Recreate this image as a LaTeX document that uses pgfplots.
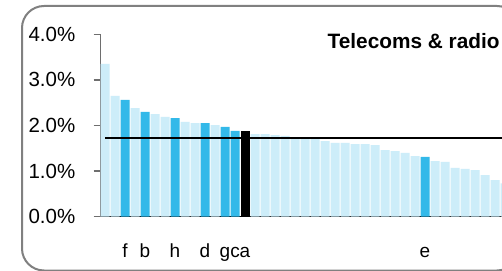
\documentclass[border=0pt]{standalone}
\usepackage{pgfplots}
\pgfplotsset{compat=1.18}
\usepackage{fontspec}
\setmainfont{Liberation Sans}
\definecolor{lightb}{RGB}{205,237,249}
\definecolor{darkb}{RGB}{51,185,233}
\definecolor{framegray}{RGB}{128,128,128}
\definecolor{axgray}{RGB}{110,110,110}
\begin{document}
\begin{tikzpicture}[x=1pt,y=1pt]
\useasboundingbox (0,0) rectangle (502,270);
\clip (0,0) rectangle (502,270);
\fill[white] (0,0) rectangle (502,270);
\draw[framegray, line width=2pt, rounded corners=22pt] (22,-0.5) rectangle (519,264);
\begin{axis}[
  at={(100.5pt,53.3pt)}, anchor=origin,
  scale only axis, width=401.5pt, height=182.4pt,
  xmin=0.55, xmax=40.7, ymin=0, ymax=4,
  axis x line=bottom, axis y line=left,
  axis line style={-},
  x axis line style={black, line width=1.3pt},
  y axis line style={axgray, line width=1.3pt},
  xtick={3,5,8,11,13,14,15,33},
  xticklabels={f,b,h,d,g,c,a,e},
  xtick style={draw=none},
  ytick={0,1,2,3,4},
  yticklabels={0.0\%,1.0\%,2.0\%,3.0\%,4.0\%},
  ytick style={axgray, line width=1.3pt},
  tick align=outside, major tick length=7pt,
  yticklabel style={anchor=east, inner sep=0pt, xshift=-18pt, font=\fontsize{20.5}{24}\selectfont},
  xticklabel style={anchor=base, inner sep=0pt, yshift=-34pt, font=\fontsize{19}{22}\selectfont},
  ybar, bar width=9pt, bar shift=0pt,
]
\addplot[fill=lightb, draw=none] coordinates {
(1,3.35) (2,2.65) (4,2.38) (6,2.25) (7,2.19) (9,2.08) (10,2.05) (12,2.01)
(16,1.81) (17,1.81) (18,1.79) (19,1.77) (20,1.73) (21,1.72) (22,1.71) (23,1.66)
(24,1.62) (25,1.62) (26,1.59) (27,1.59) (28,1.57) (29,1.46) (30,1.44) (31,1.40)
(32,1.33) (34,1.22) (35,1.20) (36,1.07) (37,1.05) (38,1.02) (39,0.91) (40,0.80) (41,0.73)};
\addplot[fill=darkb, draw=none] coordinates {
(3,2.56) (5,2.30) (8,2.16) (11,2.05) (13,1.97) (14,1.88) (33,1.31)};
\addplot[fill=black, draw=none] coordinates {(15,1.88)};
\addplot[sharp plot, black, line width=2pt] coordinates {(1,1.73) (40.7,1.73)};
\end{axis}
\node[anchor=base west, inner sep=0pt, font=\fontsize{20.8}{25}\selectfont\bfseries] at (327.5,221) {Telecoms \& radio};
\end{tikzpicture}
\end{document}
